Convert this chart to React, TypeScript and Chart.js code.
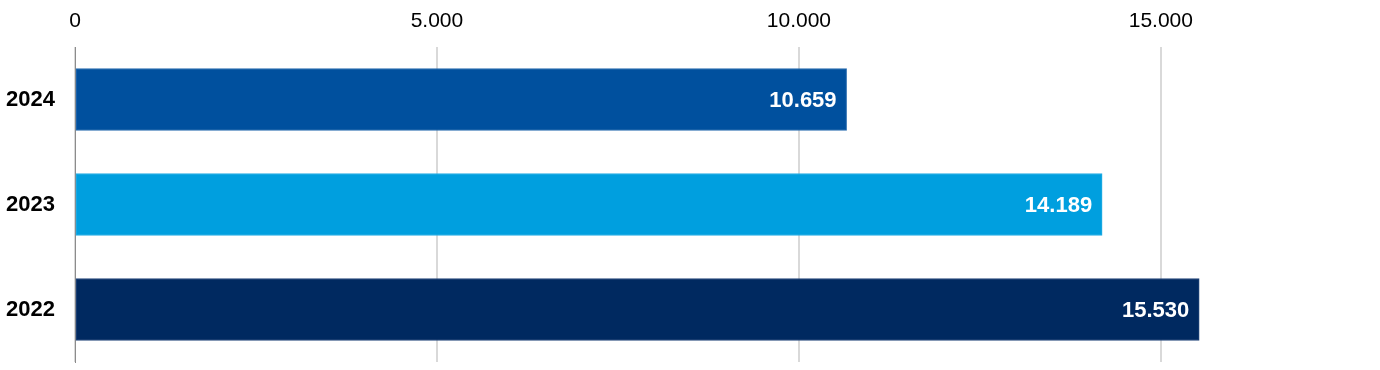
import React, { useEffect, useRef } from "react";
import { Chart, registerables } from "chart.js";

Chart.register(...registerables);

const categories = ["2024", "2023", "2022"];
const values = [10659, 14189, 15530];
const barColors = ["#00509e", "#009fdf", "#002960"];
const barBorders = ["#2a6db0", "#2aaee4", "#274a7c"];
const xMax = 18000;
const xTicks = [0, 5000, 10000, 15000];

const fmt = (v: number) => String(Math.round(v)).replace(/\B(?=(\d{3})+(?!\d))/g, ".");

const FONT = "'Liberation Sans', Arial, Helvetica, sans-serif";

const valueLabels = {
  id: "valueLabels",
  afterDatasetsDraw(chart: any) {
    const ctx = chart.ctx;
    const meta = chart.getDatasetMeta(0);
    ctx.save();
    ctx.font = `bold 22px ${FONT}`;
    ctx.fillStyle = "#ffffff";
    ctx.textAlign = "right";
    ctx.textBaseline = "middle";
    meta.data.forEach((bar: any, i: number) => {
      ctx.fillText(fmt(values[i]), bar.x - 10, bar.y + 1);
    });
    ctx.restore();
  },
};

export default function App() {
  const ref = useRef<HTMLCanvasElement | null>(null);
  useEffect(() => {
    document.body.style.margin = "0";
    const chart = new Chart(ref.current as HTMLCanvasElement, {
      type: "bar",
      data: {
        labels: categories,
        datasets: [
          {
            data: values,
            backgroundColor: barColors,
            borderColor: barBorders,
            borderWidth: 1,
            borderSkipped: false,
            barThickness: 62,
          },
        ],
      },
      options: {
        indexAxis: "y",
        animation: false,
        responsive: false,
        maintainAspectRatio: false,
        layout: { padding: { top: 0, right: 2, bottom: 8, left: 0 } },
        plugins: { legend: { display: false }, tooltip: { enabled: false } },
        scales: {
          x: {
            position: "top",
            min: 0,
            max: xMax,
            afterBuildTicks: (s: any) => {
              s.ticks = xTicks.map((v) => ({ value: v }));
            },
            afterFit: (s: any) => {
              s.height = 47;
              s.paddingLeft = 0;
              s.paddingRight = 0;
            },
            ticks: {
              padding: 13,
              autoSkip: false,
              maxRotation: 0,
              color: "#000000",
              font: { family: FONT, size: 21 },
              callback: (v: any) => fmt(Number(v)),
            },
            grid: { color: "#d9d9d9", lineWidth: 2, drawTicks: false },
            border: { display: false },
          },
          y: {
            afterFit: (s: any) => {
              s.width = 75;
              s.paddingTop = 0;
              s.paddingBottom = 0;
            },
            ticks: {
              padding: 20,
              color: "#000000",
              font: { family: FONT, size: 22, weight: "bold" },
            },
            grid: { display: false, drawTicks: false },
            border: { display: true, color: "#8c8c8c", width: 1 },
          },
        },
      },
      plugins: [valueLabels],
    } as any);
    return () => chart.destroy();
  }, []);
  return (
    <div style={{ position: "absolute", left: 0, top: 0, width: 1380, height: 370 }}>
      <canvas ref={ref} width={1380} height={370} style={{ width: 1380, height: 370 }} />
    </div>
  );
}
